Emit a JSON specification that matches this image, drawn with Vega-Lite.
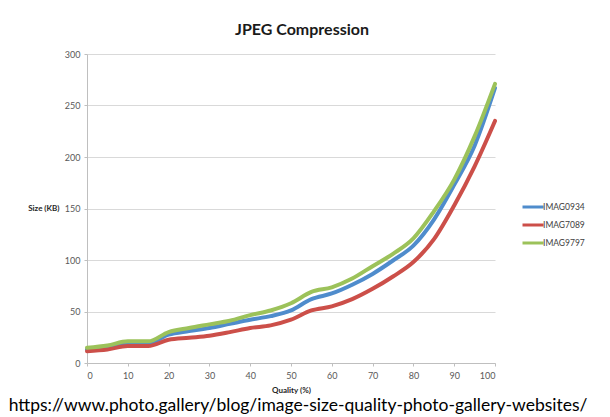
{
  "$schema": "https://vega.github.io/schema/vega-lite/v6.json",
  "background": "white",
  "padding": {"left": 8, "top": 22, "right": 5, "bottom": 0},
  "title": {
    "text": "https://www.photo.gallery/blog/image-size-quality-photo-gallery-websites/",
    "orient": "bottom",
    "anchor": "start",
    "dx": -19,
    "font": "Lato",
    "fontSize": 17.5,
    "fontWeight": "normal",
    "color": "#000000",
    "offset": 3
  },
  "vconcat": [
    {
      "width": 408,
      "height": 309,
      "title": {
        "text": "JPEG Compression",
        "font": "Lato",
        "fontSize": 16,
        "fontWeight": "bold",
        "color": "#1a1a1a",
        "anchor": "middle",
        "dx": 11,
        "offset": 12
      },
      "data": {
        "values": [
          {"quality": 0, "series": "IMAG0934", "size": 13},
          {"quality": 5, "series": "IMAG0934", "size": 15.5},
          {"quality": 10, "series": "IMAG0934", "size": 19},
          {"quality": 15, "series": "IMAG0934", "size": 19},
          {"quality": 20, "series": "IMAG0934", "size": 27.5},
          {"quality": 25, "series": "IMAG0934", "size": 31},
          {"quality": 30, "series": "IMAG0934", "size": 34},
          {"quality": 35, "series": "IMAG0934", "size": 38},
          {"quality": 40, "series": "IMAG0934", "size": 42},
          {"quality": 45, "series": "IMAG0934", "size": 45.5},
          {"quality": 50, "series": "IMAG0934", "size": 51},
          {"quality": 55, "series": "IMAG0934", "size": 62},
          {"quality": 60, "series": "IMAG0934", "size": 67.5},
          {"quality": 65, "series": "IMAG0934", "size": 76},
          {"quality": 70, "series": "IMAG0934", "size": 86.5},
          {"quality": 75, "series": "IMAG0934", "size": 99.5},
          {"quality": 80, "series": "IMAG0934", "size": 114},
          {"quality": 85, "series": "IMAG0934", "size": 139},
          {"quality": 90, "series": "IMAG0934", "size": 173},
          {"quality": 95, "series": "IMAG0934", "size": 211},
          {"quality": 100, "series": "IMAG0934", "size": 267},
          {"quality": 0, "series": "IMAG7089", "size": 11.5},
          {"quality": 5, "series": "IMAG7089", "size": 13.2},
          {"quality": 10, "series": "IMAG7089", "size": 16.5},
          {"quality": 15, "series": "IMAG7089", "size": 16.5},
          {"quality": 20, "series": "IMAG7089", "size": 22.5},
          {"quality": 25, "series": "IMAG7089", "size": 24.5},
          {"quality": 30, "series": "IMAG7089", "size": 26.5},
          {"quality": 35, "series": "IMAG7089", "size": 30},
          {"quality": 40, "series": "IMAG7089", "size": 34},
          {"quality": 45, "series": "IMAG7089", "size": 36.5},
          {"quality": 50, "series": "IMAG7089", "size": 42},
          {"quality": 55, "series": "IMAG7089", "size": 51},
          {"quality": 60, "series": "IMAG7089", "size": 55},
          {"quality": 65, "series": "IMAG7089", "size": 62},
          {"quality": 70, "series": "IMAG7089", "size": 72},
          {"quality": 75, "series": "IMAG7089", "size": 84},
          {"quality": 80, "series": "IMAG7089", "size": 98},
          {"quality": 85, "series": "IMAG7089", "size": 120},
          {"quality": 90, "series": "IMAG7089", "size": 153},
          {"quality": 95, "series": "IMAG7089", "size": 191},
          {"quality": 100, "series": "IMAG7089", "size": 235},
          {"quality": 0, "series": "IMAG9797", "size": 14.7},
          {"quality": 5, "series": "IMAG9797", "size": 17},
          {"quality": 10, "series": "IMAG9797", "size": 21},
          {"quality": 15, "series": "IMAG9797", "size": 21},
          {"quality": 20, "series": "IMAG9797", "size": 30},
          {"quality": 25, "series": "IMAG9797", "size": 34},
          {"quality": 30, "series": "IMAG9797", "size": 37.5},
          {"quality": 35, "series": "IMAG9797", "size": 41},
          {"quality": 40, "series": "IMAG9797", "size": 46.5},
          {"quality": 45, "series": "IMAG9797", "size": 51},
          {"quality": 50, "series": "IMAG9797", "size": 58},
          {"quality": 55, "series": "IMAG9797", "size": 69},
          {"quality": 60, "series": "IMAG9797", "size": 73.5},
          {"quality": 65, "series": "IMAG9797", "size": 82},
          {"quality": 70, "series": "IMAG9797", "size": 94},
          {"quality": 75, "series": "IMAG9797", "size": 106},
          {"quality": 80, "series": "IMAG9797", "size": 121},
          {"quality": 85, "series": "IMAG9797", "size": 147},
          {"quality": 90, "series": "IMAG9797", "size": 178},
          {"quality": 95, "series": "IMAG9797", "size": 220},
          {"quality": 100, "series": "IMAG9797", "size": 271}
        ]
      },
      "mark": {"type": "line", "interpolate": "monotone", "strokeWidth": 4, "strokeCap": "round"},
      "encoding": {
        "x": {
          "field": "quality",
          "type": "quantitative",
          "scale": {"domain": [0, 100], "nice": false},
          "axis": {
            "title": "Quality (%)",
            "values": [0, 10, 20, 30, 40, 50, 60, 70, 80, 90, 100],
            "grid": false,
            "labelPadding": 5,
            "titlePadding": 6
          }
        },
        "y": {
          "field": "size",
          "type": "quantitative",
          "scale": {"domain": [0, 300], "nice": false},
          "axis": {
            "title": "Size (KB)",
            "values": [0, 50, 100, 150, 200, 250, 300],
            "grid": true,
            "labelPadding": 4,
            "titleAngle": 0,
            "titleAlign": "right",
            "titleBaseline": "middle",
            "titleX": -28,
            "titleY": 154.5
          }
        },
        "color": {
          "field": "series",
          "type": "nominal",
          "scale": {
            "domain": ["IMAG0934", "IMAG7089", "IMAG9797"],
            "range": ["#4f8ccc", "#cc4f49", "#9cc25a"]
          },
          "legend": {
            "title": null,
            "orient": "none",
            "legendX": 434,
            "legendY": 141,
            "symbolType": "stroke",
            "symbolStrokeWidth": 3,
            "symbolSize": 441,
            "labelOffset": -2,
            "labelFont": "Lato",
            "labelFontSize": 8.5,
            "labelColor": "#404040",
            "rowPadding": -1,
            "padding": 0
          }
        }
      }
    }
  ],
  "config": {
    "font": "Lato",
    "view": {"stroke": null},
    "axis": {
      "labelFont": "Lato",
      "labelFontSize": 9,
      "labelColor": "#595959",
      "titleFont": "Lato",
      "titleFontSize": 8,
      "titleFontWeight": "bold",
      "titleColor": "#262626",
      "gridColor": "#d9d9d9",
      "domainColor": "#bfbfbf",
      "tickColor": "#bfbfbf",
      "tickSize": 3
    }
  }
}
